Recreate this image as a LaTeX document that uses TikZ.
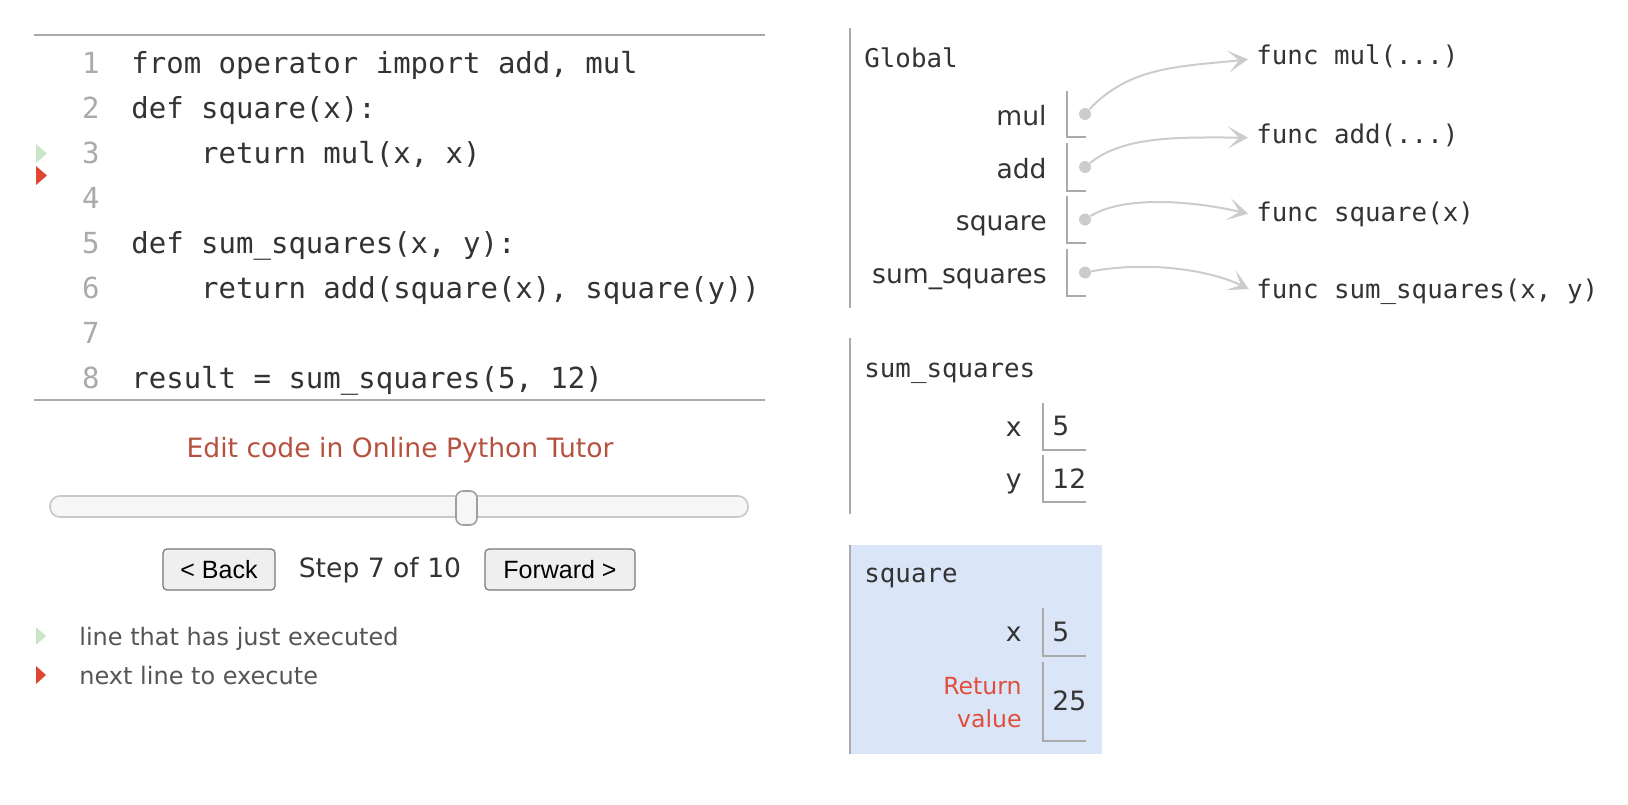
\documentclass[tikz,border=0pt]{standalone}
\usepackage{fontspec}
\setmainfont{DejaVu Sans}
\setmonofont{DejaVu Sans Mono}
\newfontfamily\btnfamily{Liberation Sans}
\usetikzlibrary{arrows.meta}
\definecolor{codetxt}{HTML}{333333}
\definecolor{lnogray}{HTML}{AAAAAA}
\definecolor{rulegray}{HTML}{AAAAAA}
\definecolor{ptrgray}{HTML}{CCCCCC}
\definecolor{linkred}{HTML}{B5523F}
\definecolor{prevgreen}{HTML}{C9E6CA}
\definecolor{nextred}{HTML}{DE4631}
\definecolor{retred}{HTML}{E04E3B}
\definecolor{framehl}{HTML}{DAE6F8}
\definecolor{trackfill}{HTML}{F6F6F6}
\definecolor{trackedge}{HTML}{C8C8C8}
\definecolor{btnfill}{HTML}{EFEFEF}
\definecolor{btnedge}{HTML}{767676}
\definecolor{legendtxt}{HTML}{555555}
\newcommand{\pycode}{\ttfamily\fontsize{14.5}{17}\selectfont}
\newcommand{\heapfont}{\ttfamily\fontsize{12.9}{15}\selectfont}
\newcommand{\uifont}{\fontsize{13.3}{16}\selectfont}
\newcommand{\legendfont}{\fontsize{12}{14}\selectfont}
\newcommand{\retfont}{\fontsize{11.8}{16.5}\selectfont}
\newcommand{\btnfont}{\btnfamily\fontsize{12.5}{15}\selectfont}

\begin{document}
\begin{tikzpicture}[x=0.5pt, y=-0.5pt,
  codeline/.style={anchor=base west, inner sep=0pt, font=\pycode, text=codetxt},
  lineno/.style={anchor=base east, inner sep=0pt, font=\pycode, text=lnogray},
  varname/.style={anchor=base east, inner sep=0pt, font=\uifont, text=codetxt},
  varval/.style={anchor=base west, inner sep=0pt, font=\uifont, text=codetxt},
  frametitle/.style={anchor=base west, inner sep=0pt, font=\heapfont, text=codetxt},
  funclabel/.style={anchor=base west, inner sep=0pt, font=\heapfont, text=codetxt},
  ptrdot/.style={circle, fill=ptrgray, inner sep=0pt, minimum size=6pt},
  ptr/.style={draw=ptrgray, line width=1pt, shorten >=4pt,
    -{Stealth[length=10pt, width=11pt, inset=5.5pt]}},
  boxline/.style={draw=rulegray, line width=0.8pt},
  frameline/.style={draw=rulegray, line width=1.2pt},
  btn/.style={draw=btnedge, fill=btnfill, line width=0.6pt, rounded corners=2pt,
    font=\btnfont, text=black, minimum height=20.5pt, inner sep=0pt}]

\useasboundingbox (0,0) rectangle (1628,804);

% --- Code listing ---
\draw[rulegray, line width=1pt] (34,35) -- (765,35);
\draw[rulegray, line width=1pt] (34,400) -- (765,400);

\node[lineno] (n1) at (100,73)  {1};
\node[lineno] (n2) at (100,118) {2};
\node[lineno] (n3) at (100,163) {3};
\node[lineno] (n4) at (100,208) {4};
\node[lineno] (n5) at (100,253) {5};
\node[lineno] (n6) at (100,298) {6};
\node[lineno] (n7) at (100,343) {7};
\node[lineno] (n8) at (100,388) {8};

\node[codeline] (c1) at (131,73)  {from operator import add, mul};
\node[codeline] (c2) at (131,118) {def square(x):};
\node[codeline] (c3) at (131,163) {\hphantom{xxxx}return mul(x, x)};
\node[codeline] (c5) at (131,253) {def sum\_squares(x, y):};
\node[codeline] (c6) at (131,298) {\hphantom{xxxx}return add(square(x), square(y))};
\node[codeline] (c8) at (131,388) {result = sum\_squares(5, 12)};

% line markers
\fill[prevgreen] (36,144) -- (47,153.5) -- (36,163) -- cycle;
\fill[nextred] (36,166) -- (47,175.5) -- (36,185) -- cycle;

% --- Controls ---
\node[anchor=base, font=\uifont, text=linkred] (edit) at (400,457)
  {Edit code in Online Python Tutor};

\draw[trackedge, fill=trackfill, line width=0.8pt, rounded corners=5pt]
  (50,496) rectangle (748,517);
\draw[btnedge!70, fill=trackfill, line width=0.8pt, rounded corners=3.5pt]
  (456,491) rectangle (477,525);

\node[btn, minimum width=56pt] (back) at (219,569.5) {< Back};
\node[anchor=base, font=\uifont, text=codetxt] (step) at (380,577) {Step 7 of 10};
\node[btn, minimum width=75pt] (fwd) at (560,569.5) {Forward >};

% legend
\fill[prevgreen] (36,627) -- (46,636) -- (36,645) -- cycle;
\node[anchor=base west, inner sep=0pt, font=\legendfont, text=legendtxt] (lgprev)
  at (79,645) {line that has just executed};
\fill[nextred] (36,666) -- (46,675) -- (36,684) -- cycle;
\node[anchor=base west, inner sep=0pt, font=\legendfont, text=legendtxt] (lgnext)
  at (79,684) {next line to execute};

% --- Global frame ---
\draw[frameline] (850,28) -- (850,308);
\node[frametitle] (global) at (864,67) {Global};

\node[varname] (vmul) at (1047,125) {mul};
\node[varname] (vadd) at (1047,178) {add};
\node[varname] (vsq)  at (1047,230) {square};
\node[varname] (vsum) at (1047,283) {sum\_squares};

\draw[boxline] (1067,91)  |- (1086,137);
\draw[boxline] (1067,143) |- (1086,191);
\draw[boxline] (1067,196) |- (1086,243);
\draw[boxline] (1067,249) |- (1086,296);

\node[ptrdot] (dmul) at (1085,114) {};
\node[ptrdot] (dadd) at (1085,167) {};
\node[ptrdot] (dsq)  at (1085,219.5) {};
\node[ptrdot] (dsum) at (1085,272.5) {};

\node[funclabel] (fmul) at (1256,64)  {func mul(...)};
\node[funclabel] (fadd) at (1256,143) {func add(...)};
\node[funclabel] (fsq)  at (1256,221) {func square(x)};
\node[funclabel] (fsum) at (1256,298) {func sum\_squares(x, y)};

\draw[ptr] (dmul) .. controls +(45,-48) and +(-75,8) .. (fmul.mid west);
\draw[ptr] (dadd) .. controls +(40,-32) and +(-75,0) .. (fadd.mid west);
\draw[ptr] (dsq)  .. controls +(40,-25) and +(-60,-14) .. (fsq.mid west);
\draw[ptr] (dsum) .. controls +(65,-12) and +(-45,-22) .. (fsum.mid west);

% --- sum_squares frame ---
\draw[frameline] (850,338) -- (850,514);
\node[frametitle] (sumtitle) at (864,377) {sum\_squares};

\node[varname] (sx) at (1022,436) {x};
\node[varname] (sy) at (1022,488) {y};
\draw[boxline] (1043,403) |- (1086,450);
\draw[boxline] (1043,455) |- (1086,502);
\node[varval] (sxv) at (1052,435) {5};
\node[varval] (syv) at (1052,488) {12};

% --- square frame (highlighted) ---
\fill[framehl] (850,545) rectangle (1102,754);
\draw[frameline] (850,545) -- (850,754);
\node[frametitle] (sqtitle) at (864,582) {square};

\node[varname] (qx) at (1022,641) {x};
\draw[boxline] (1043,608) |- (1086,656);
\node[varval] (qxv) at (1052,641) {5};

\node[anchor=east, inner sep=0pt, align=right, font=\retfont, text=retred] (ret)
  at (1022,703) {Return\\value};
\draw[boxline] (1043,662) |- (1086,741);
\node[varval] (retv) at (1052,710) {25};

\end{tikzpicture}
\end{document}
